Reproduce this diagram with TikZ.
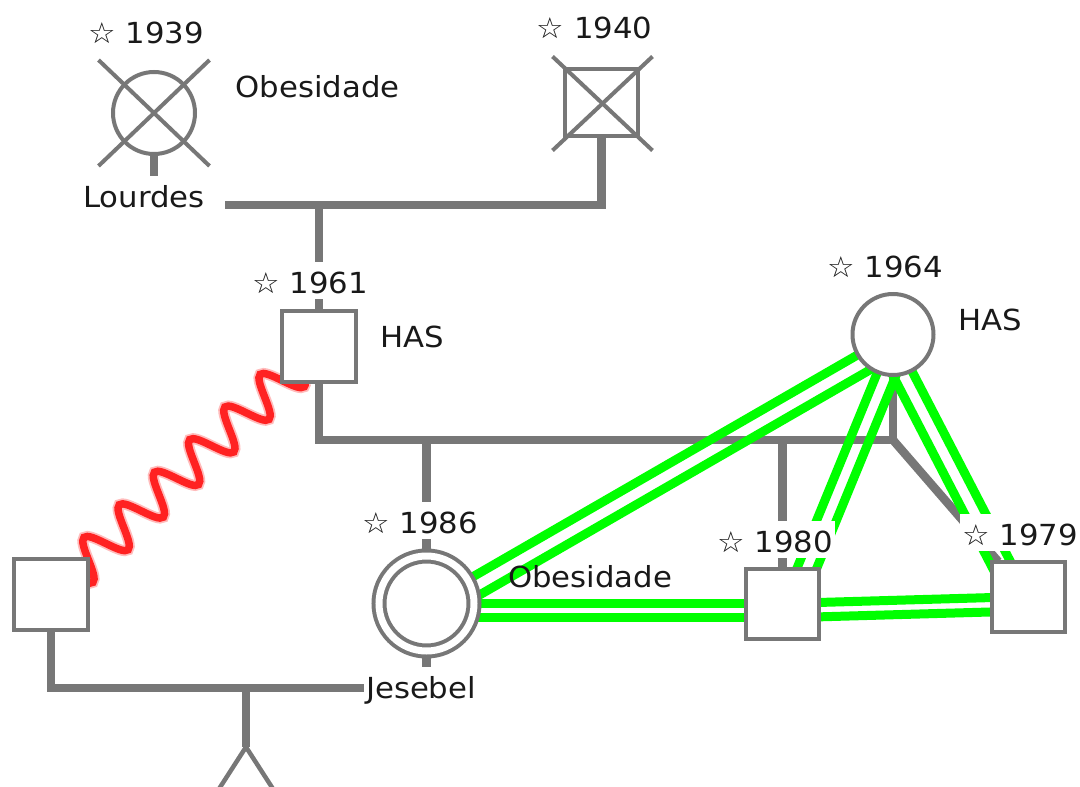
\documentclass[tikz,border=0pt]{standalone}
\usepackage{fontspec}
\setmainfont{DejaVu Sans}[FakeStretch=1.06]
\usetikzlibrary{calc,decorations.pathmorphing}
\definecolor{lg}{RGB}{119,119,119}
\definecolor{gr}{RGB}{0,255,0}
\definecolor{rd}{RGB}{255,34,34}
\definecolor{tx}{RGB}{25,25,25}
\pgfdeclarelayer{graylines}
\pgfdeclarelayer{rellines}
\pgfsetlayers{graylines,rellines,main}
\begin{document}
\begin{tikzpicture}[x=1pt,y=-1pt,
  font=\fontsize{29pt}{32pt}\selectfont,
  tline/.style={draw=lg,line width=8.5pt},
  thinl/.style={draw=lg,line width=4pt},
  person/.style={draw=lg,line width=4pt,fill=white,inner sep=0pt,outer sep=0pt},
  male/.style={person,rectangle,minimum width=73.5pt,minimum height=70pt},
  female/.style={person,circle,minimum size=82pt},
  yr/.style={fill=white,text=tx,inner xsep=2pt,inner ysep=0pt,text height=31pt,text depth=6pt,anchor=base},
  cond/.style={text=tx,inner sep=0pt,anchor=base},
  rel/.style={draw=gr,line width=9pt},
  wavedeco/.style={decorate,decoration={snake,amplitude=19.5pt,segment length=48pt}},
  wave/.style={draw=rd,line width=7.5pt,wavedeco},
  wavehalo/.style={draw=rd,opacity=0.3,line width=11pt,wavedeco}]
\useasboundingbox (0,0) rectangle (1080,787);

% persons
\node[female] (lourdes) at (154,113) {};
\node[male,minimum height=67pt] (g1940) at (601.5,102.5) {};
\node[male,minimum width=74pt,minimum height=71pt] (p1961) at (319,346.5) {};
\node[female,minimum size=81pt] (p1964) at (893,334.5) {};
\node[person,circle,minimum size=95pt,double=white,double distance=7pt] (p1986) at (426.5,603.5) {};
\node[male] (p1980) at (782.5,603.5) {};
\node[male] (p1979) at (1028.5,596.5) {};
\node[male,minimum width=74pt,minimum height=71pt] (pL) at (51,594.5) {};

% deceased crosses
\draw[thinl] ($(lourdes)+(-55.5,-53)$) -- ($(lourdes)+(55.5,53)$);
\draw[thinl] ($(lourdes)+(55.5,-53)$) -- ($(lourdes)+(-55.5,53)$);
\draw[thinl] ($(g1940)+(-49,-46)$) -- ($(g1940)+(51,48)$);
\draw[thinl] ($(g1940)+(51,-46)$) -- ($(g1940)+(-49,48)$);

% junction coordinates
\coordinate (cLo) at (154,205);
\coordinate (c1mid) at (319,205);
\coordinate (c2R) at (893,440);
\coordinate (cJ) at (426.5,688);
\coordinate (c3mid) at (246,688);
\coordinate (fork) at (246,747);
\coordinate (twA) at (208,806);
\coordinate (twB) at (284,806);

\begin{pgfonlayer}{graylines}
\draw[tline] (lourdes) -- (cLo);
\draw[tline] (cLo) -| (g1940);
\draw[tline] (c1mid) -- (p1961);
\draw[tline] (p1961) |- (c2R) -- (p1964);
\draw[tline] (c2R) -- (p1979);
\draw[tline] (p1986 |- c2R) -- (p1986);
\draw[tline] (p1980 |- c2R) -- (p1980);
\draw[tline] (pL) |- (cJ);
\draw[tline] (p1986) -- (cJ);
\draw[tline] (c3mid) -- (fork);
\draw[lg,line width=4.5pt,line cap=round] (fork) -- (twA);
\draw[lg,line width=4.5pt,line cap=round] (fork) -- (twB);
\end{pgfonlayer}

\begin{pgfonlayer}{rellines}
\draw[rel] (p1986.center) -- (p1964.center);
\draw[rel] ($(p1986.center)+(14,14)$) -- ($(p1964.center)+(14,14)$);
\draw[rel] (p1986.center) -- (p1980.center);
\draw[rel] ($(p1986.center)+(14,14)$) -- ($(p1980.center)+(14,14)$);
\draw[rel] (p1980.center) -- (p1979.center);
\draw[rel] ($(p1980.center)+(14,14)$) -- ($(p1979.center)+(14,14)$);
\draw[rel] (p1964.center) -- (p1980.center);
\draw[rel] ($(p1964.center)+(14,14)$) -- ($(p1980.center)+(14,14)$);
\draw[rel] (p1964.center) -- (p1979.center);
\draw[rel] ($(p1964.center)+(-14,14)$) -- ($(p1979.center)+(-14,14)$);
\draw[wavehalo] (pL.center) -- (p1961.center);
\draw[wave] (pL.center) -- (p1961.center);
\end{pgfonlayer}

% labels
\node[yr] (y1939) at (146,43) {☆ 1939};
\node[yr] (y1940) at (594.5,38) {☆ 1940};
\node[yr] (y1961) at (310,293) {☆ 1961};
\node[yr] (y1964) at (885,277) {☆ 1964};
\node[yr] (y1986) at (420,533) {☆ 1986};
\node[yr] (y1980) at (775,552) {☆ 1980};
\node[yr] (y1979) at (1020,545) {☆ 1979};
\node[yr,inner xsep=20pt] (nLourdes) at (144,207) {Lourdes};
\node[yr] (nJes) at (421,698) {Jesebel};
\node[cond] (o1) at (317.5,97) {Obesidade};
\node[cond] (h1) at (412,347) {HAS};
\node[cond] (h2) at (990,330) {HAS};
\node[cond] (o2) at (590,587) {Obesidade};
\end{tikzpicture}
\end{document}
